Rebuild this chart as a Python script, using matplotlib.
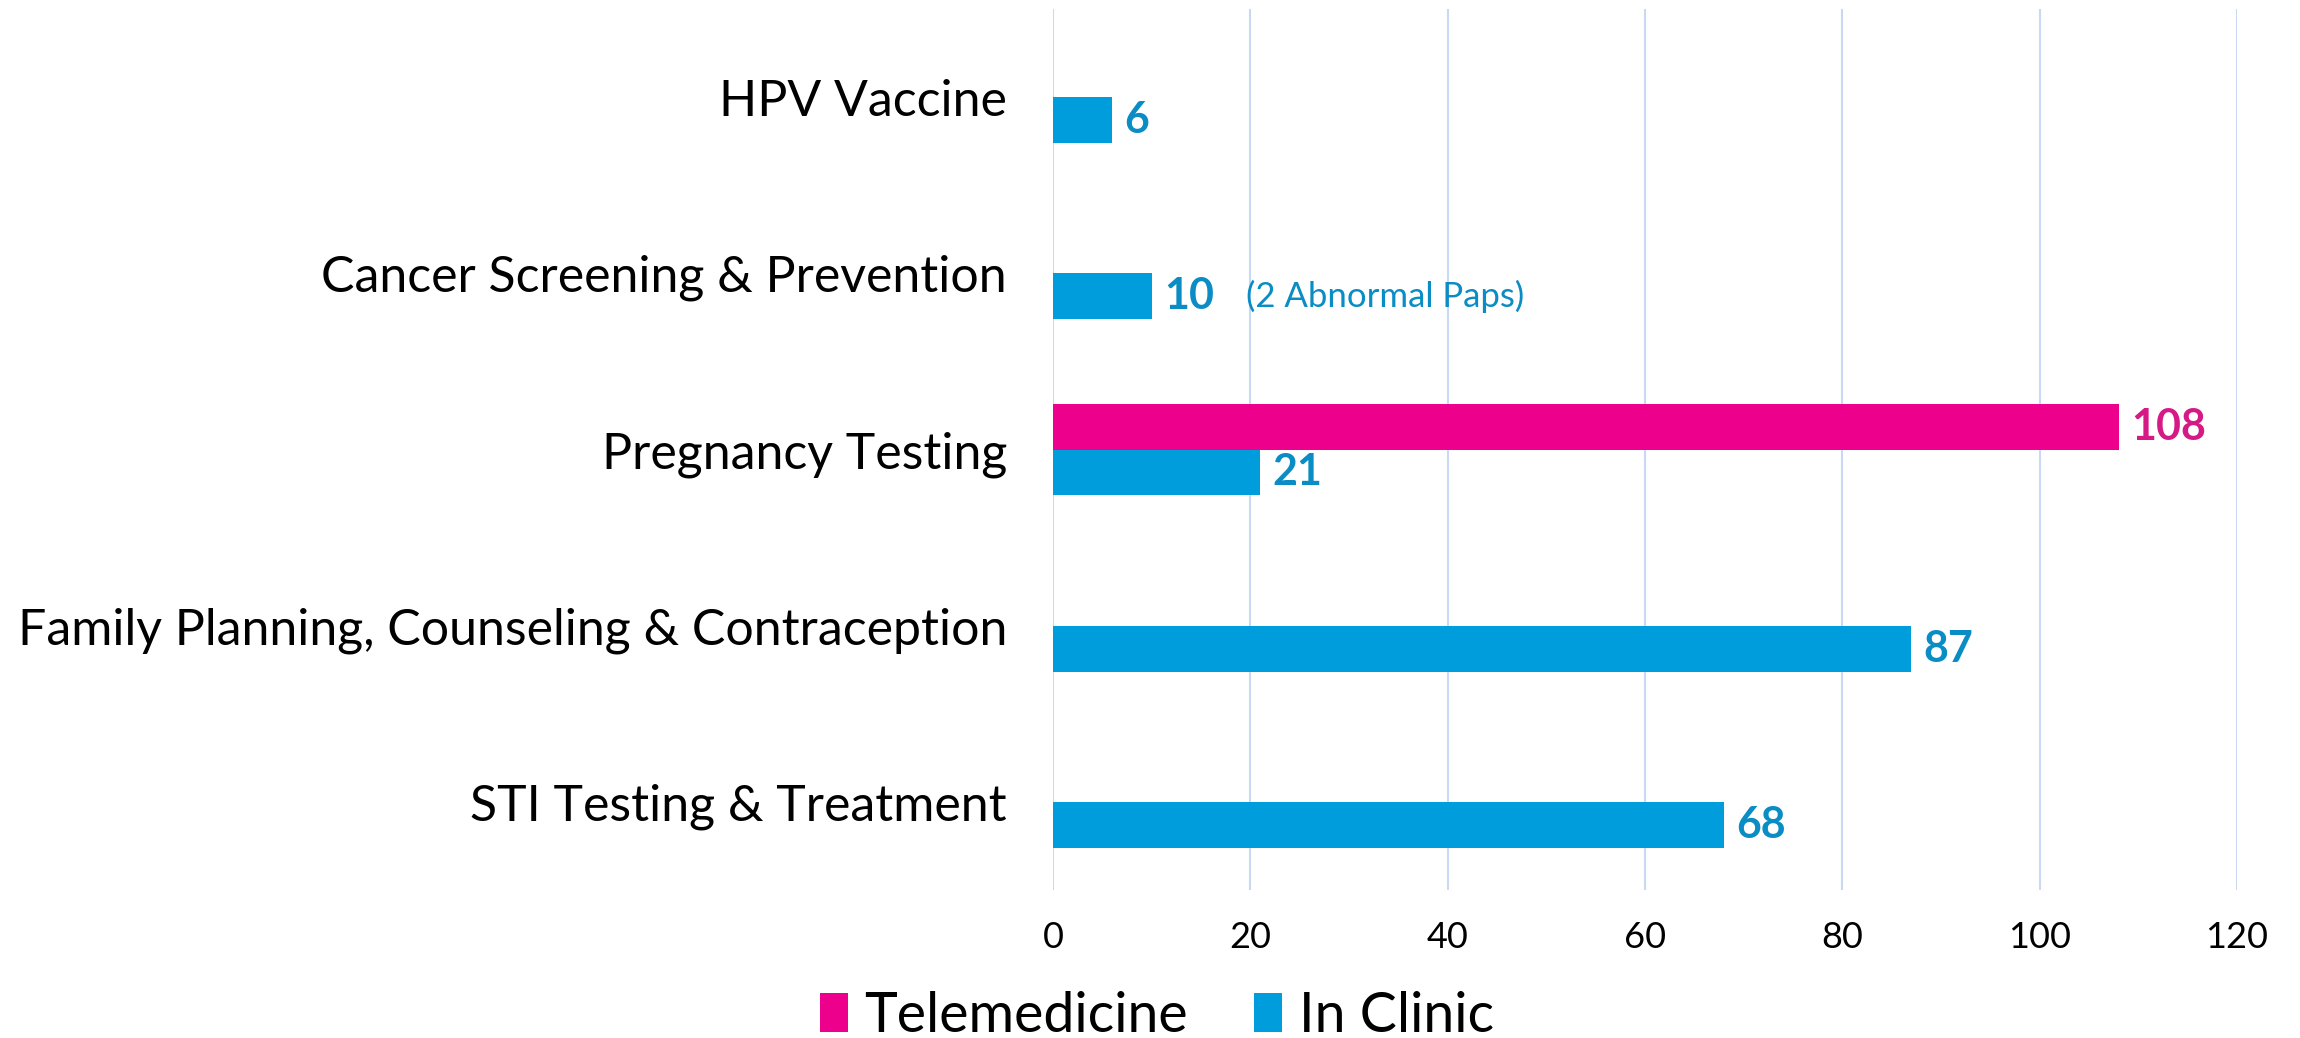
import matplotlib.pyplot as plt
import numpy as np

plt.rcParams["font.family"] = ["Lato", "DejaVu Sans"]

# data (top to bottom as in the chart)
categories = ["HPV Vaccine", "Cancer Screening & Prevention", "Pregnancy Testing",
              "Family Planning, Counseling & Contraception", "STI Testing & Treatment"]
telemedicine = [0, 0, 108, 0, 0]
in_clinic = [6, 10, 21, 87, 68]
notes = ["", "(2 Abnormal Paps)", "", "", ""]
xticks = [0, 20, 40, 60, 80, 100, 120]

pink = "#ec008c"
pink_text = "#d61a85"
blue = "#009ddc"
blue_text = "#0a8cc4"
grid_color = "#c9d8f3"

fig = plt.figure(figsize=(23, 10.38), dpi=100)
ax = fig.add_axes([0.4578, 0.1426, 0.5148, 0.8487])

n = len(categories)
y = np.arange(n)[::-1]  # HPV at top
h = 0.26

ax.barh(y + h / 2, telemedicine, height=h, color=pink, label="Telemedicine", zorder=3)
ax.barh(y - h / 2, in_clinic, height=h, color=blue, label="In Clinic", zorder=3)

for yi, tv, cv, note in zip(y, telemedicine, in_clinic, notes):
    if tv > 0:
        ax.annotate(str(tv), (tv, yi + h / 2), xytext=(9, 0), textcoords="offset points",
                    va="center", ha="left", fontsize=31, fontweight="bold", color=pink_text)
    ax.annotate(str(cv), (cv, yi - h / 2), xytext=(9, 0), textcoords="offset points",
                va="center", ha="left", fontsize=31, fontweight="bold", color=blue_text)
    if note:
        ax.annotate(note, (cv, yi - h / 2), xytext=(68, 0), textcoords="offset points",
                    va="center", ha="left", fontsize=25, color=blue_text)

ax.set_xlim(0, 120)
ax.set_ylim(-0.5, n - 0.5)
ax.set_xticks(xticks)
ax.set_xticklabels([str(t) for t in xticks], fontsize=26)
ax.set_yticks(y)
ax.set_yticklabels(categories, fontsize=36)
ax.tick_params(axis="both", length=0)
ax.tick_params(axis="x", pad=22)
ax.tick_params(axis="y", pad=33)
ax.grid(axis="x", color=grid_color, linewidth=1.5, zorder=0)
ax.set_axisbelow(True)
for s in ax.spines.values():
    s.set_visible(False)

fig.legend(loc="lower center", bbox_to_anchor=(0.503, -0.052), ncol=2, frameon=False,
           fontsize=40, handlelength=0.5, handleheight=0.7, handletextpad=0.3,
           columnspacing=1.2)

fig.savefig("out.png", dpi=100)
